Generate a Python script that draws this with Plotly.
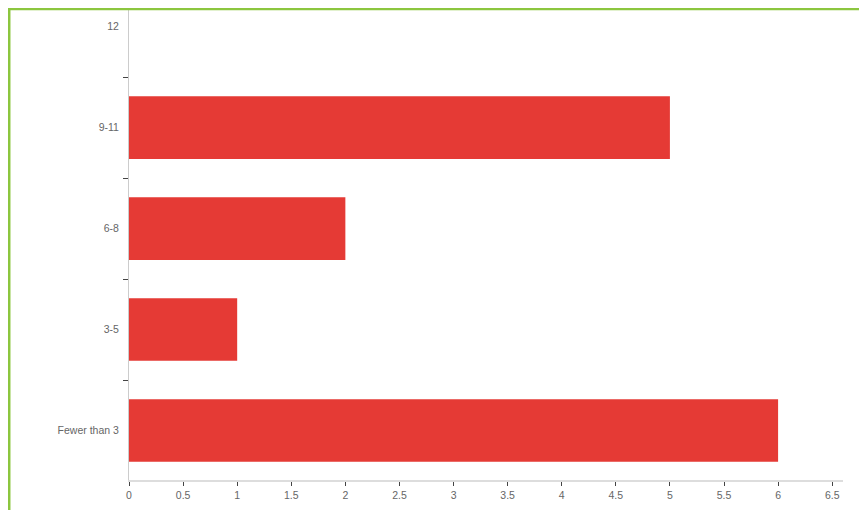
import plotly.graph_objects as go

categories = ["Fewer than 3", "3-5", "6-8", "9-11", "12"]
values = [6, 1, 2, 5, 0]
x_ticks = [0, 0.5, 1, 1.5, 2, 2.5, 3, 3.5, 4, 4.5, 5, 5.5, 6, 6.5]
x_tick_labels = ["0", "0.5", "1", "1.5", "2", "2.5", "3", "3.5", "4", "4.5", "5", "5.5", "6", "6.5"]

fig = go.Figure(go.Bar(
    y=categories, x=values, orientation="h",
    marker=dict(color="#e53a35", line=dict(width=0)),
    width=0.62, hoverinfo="x+y",
))

font = dict(family="Liberation Sans, Arial, sans-serif", size=10.5, color="#666666")

fig.update_layout(
    width=859, height=502,
    margin=dict(l=121, r=24, t=0, b=30),
    paper_bgcolor="white", plot_bgcolor="white",
    showlegend=False,
    font=font,
    xaxis=dict(
        range=[0, 6.6], tickvals=x_ticks, ticktext=x_tick_labels,
        showgrid=False, zeroline=False,
        showline=True, linecolor="#dddddd", linewidth=2,
        ticks="outside", ticklen=4, tickcolor="#444444", tickwidth=1,
        tickfont=font,
    ),
    yaxis=dict(
        type="category", categoryorder="array", categoryarray=categories,
        range=[-0.49, 4.185],
        showgrid=False, zeroline=False,
        showline=True, linecolor="#cccccc", linewidth=1,
        ticks="outside", tickson="boundaries", ticklen=5,
        tickcolor="#444444", tickwidth=1,
        ticklabelstandoff=7,
        tickfont=font,
    ),
    shapes=[
        dict(type="line", xref="paper", yref="paper",
             x0=-0.1681, x1=1.2, y0=0.9985, y1=0.9985,
             line=dict(color="#8cc63f", width=3)),
        dict(type="line", xref="paper", yref="paper",
             x0=-0.1681, x1=-0.1681, y0=1.0, y1=-0.2,
             line=dict(color="#8cc63f", width=3)),
    ],
)

fig.write_html("out.html")
